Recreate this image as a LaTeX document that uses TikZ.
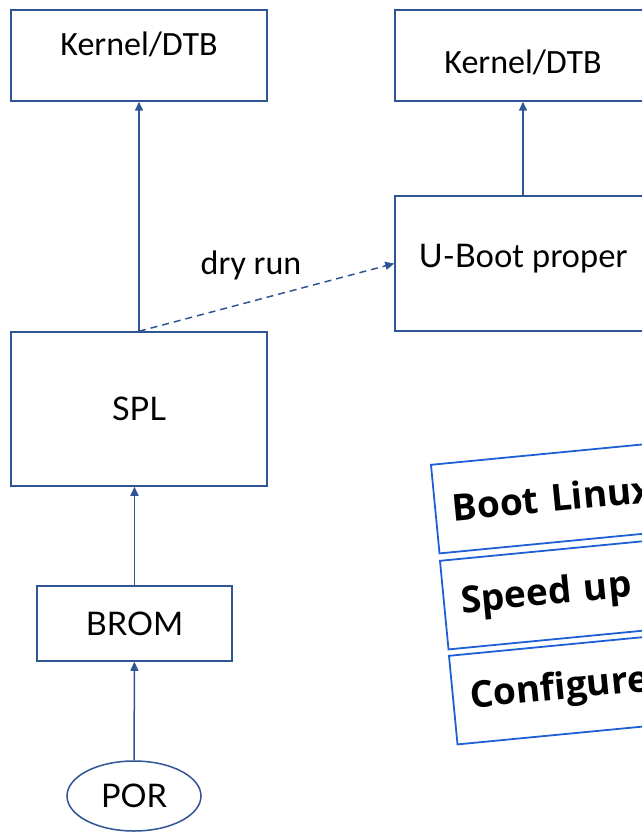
\documentclass[tikz,border=0pt]{standalone}
\usepackage{fontspec}
\setmainfont{Carlito}
\newfontfamily\latofont{Lato}
\newfontfamily\goalfont{Open Sans}
\usetikzlibrary{arrows.meta, positioning, shapes.geometric}

\definecolor{flowblue}{RGB}{47,85,151}
\definecolor{tipblue}{RGB}{30,95,214}

\tikzset{
    stage/.style={draw=flowblue, line width=1.5pt, rectangle, inner sep=0pt},
    flow/.style={draw=flowblue, line width=1.5pt, -{Triangle[length=9pt, width=8pt]}},
    tipbox/.style={draw=tipblue, line width=1.8pt, rotate=5.5, anchor=north west,
        minimum height=89pt, text width=300pt, inner xsep=17pt, align=left,
        font=\goalfont\bfseries\fontsize{37}{40}\selectfont},
    bigtxt/.style={font=\fontsize{34}{40}\selectfont},
    midtxt/.style={font=\latofont\fontsize{32.5}{38}\selectfont}
}

\begin{document}
\begin{tikzpicture}[x=1pt, y=1pt]
    \useasboundingbox (0,0) rectangle (642,-832);
    \clip (0,0) rectangle (642,-832);

    % boot chain
    \node[stage, minimum width=256pt, minimum height=91pt, bigtxt, text depth=23pt] (kernelA) at (139,-55.5) {Kernel/DTB};
    \node[stage, minimum width=256pt, minimum height=91pt, bigtxt, text height=38pt] (kernelB) at (523,-55.5) {Kernel/DTB};
    \node[stage, minimum width=256pt, minimum height=135pt, midtxt, text depth=16pt] (uboot) at (523,-263.5) {U-Boot proper};
    \node[stage, minimum width=256pt, minimum height=154pt, midtxt] (spl) at (139,-409) {SPL};
    \node[stage, minimum width=195pt, minimum height=75pt, midtxt] (brom) at (134.5,-623.5) {BROM};
    \node[draw=flowblue, line width=1.5pt, ellipse, minimum width=134pt, minimum height=70pt, midtxt] (por) at (134,-796) {POR};

    % arrows
    \draw[flow] (por) -- (brom);
    \draw[flow] (brom.north) -- (brom.north |- spl.south);
    \draw[flow] (spl) -- (kernelA);
    \draw[flow] (uboot) -- (kernelB);
    \draw[flow, dashed, dash pattern=on 7pt off 5pt] (spl.north) -- (uboot.west);
    \node[bigtxt] (dry) at (251,-265) {dry run};

    % goals
    \node[tipbox] (goalA) at (430,-464) {Boot Linux};
    \node[tipbox] (goalB) at (439,-560) {Speed up};
    \node[tipbox] (goalC) at (448,-655) {Configure};
\end{tikzpicture}
\end{document}
